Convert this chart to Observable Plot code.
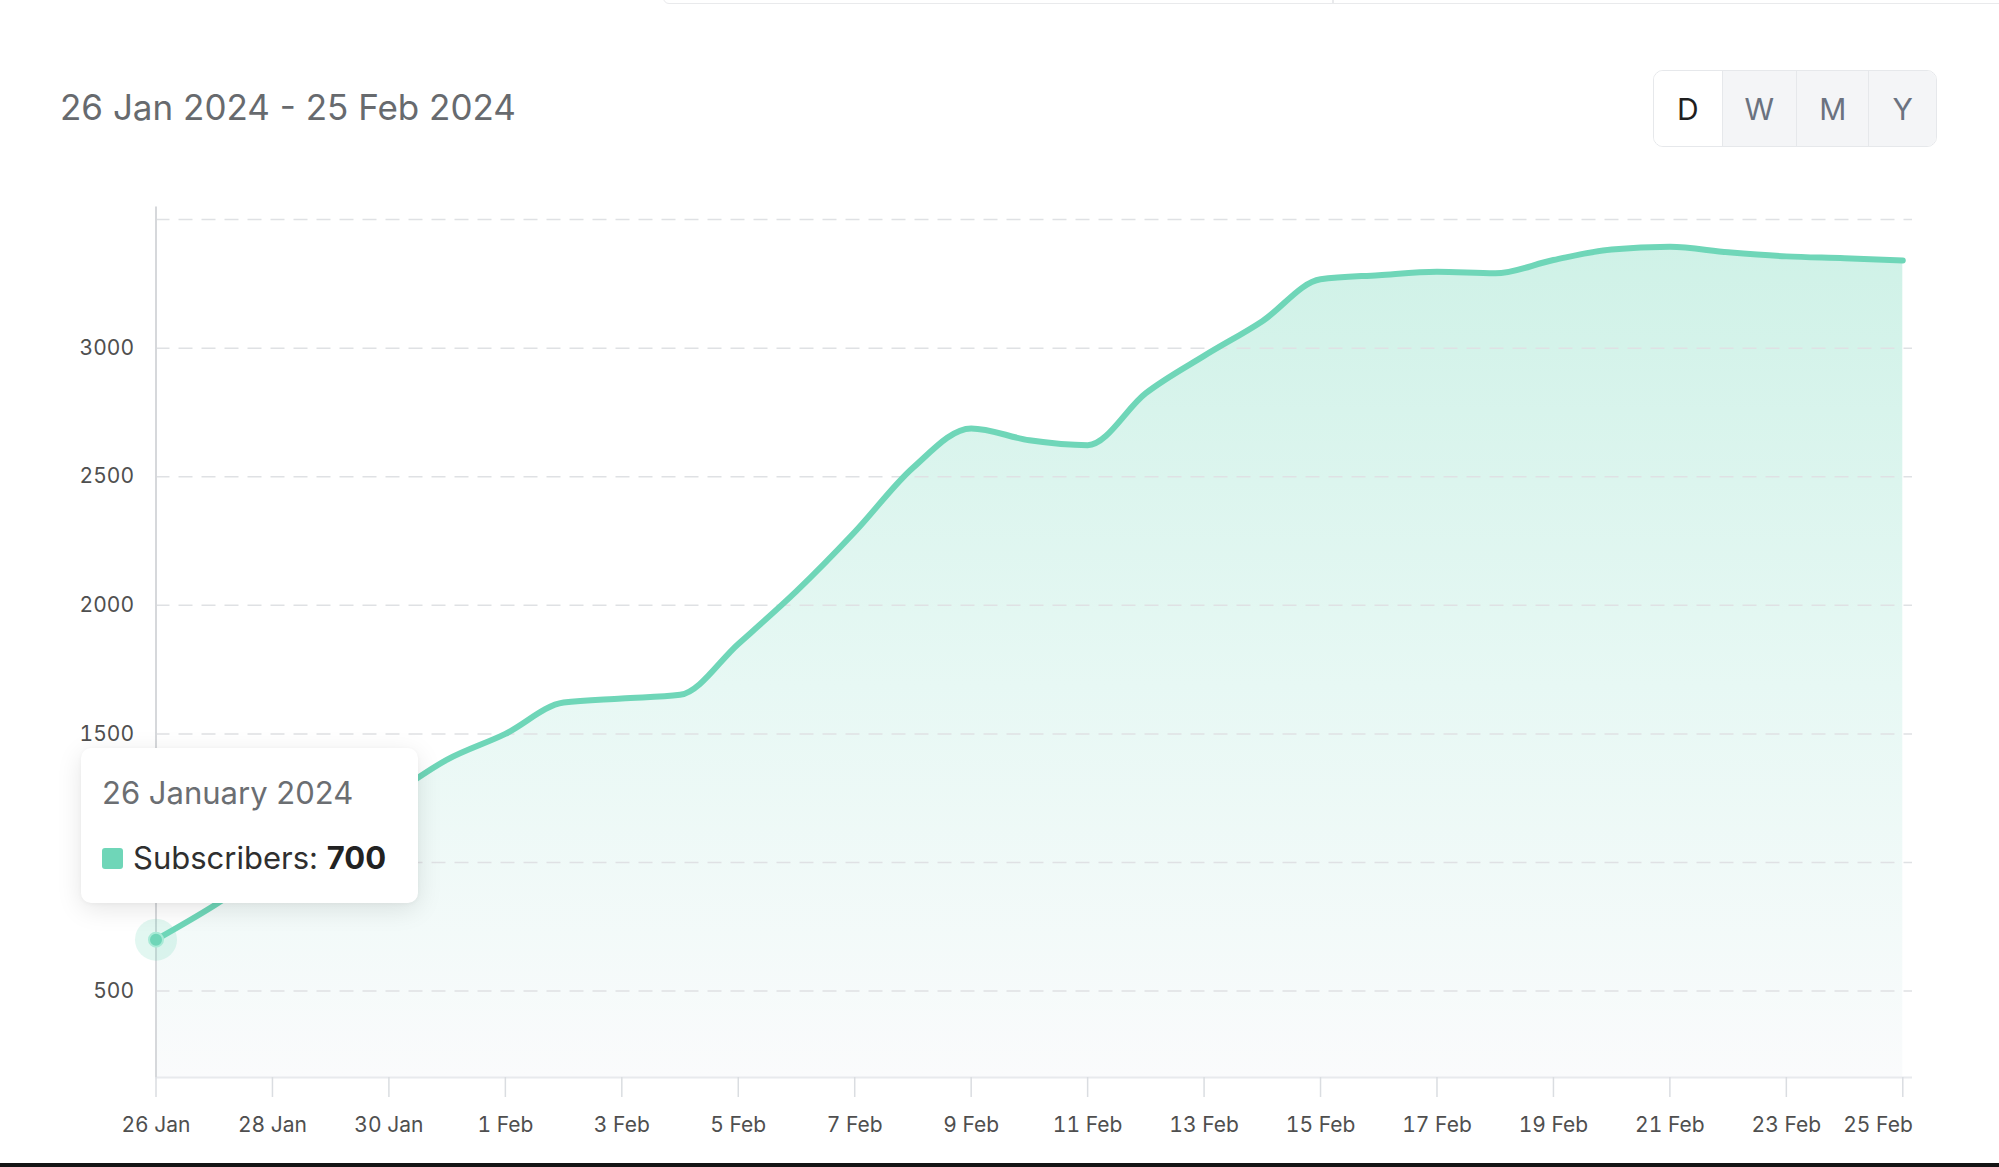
<!DOCTYPE html>
<html>
<head>
<meta charset="utf-8">
<script src="https://cdn.jsdelivr.net/npm/d3@7"></script>
<script src="https://cdn.jsdelivr.net/npm/@observablehq/plot@0.6"></script>
<style>
  html, body { margin: 0; padding: 0; background: #ffffff; }
  body { width: 1999px; height: 1167px; position: relative; overflow: hidden; font-family: Inter, "Noto Sans", sans-serif; }
  #topbox { position: absolute; left: 663px; top: -22px; width: 1400px; height: 26px; border: 1.5px solid #e9eaec; border-radius: 6px; box-sizing: border-box; }
  #topdiv { position: absolute; left: 1332px; top: -22px; width: 1.5px; height: 26px; background: #e9eaec; }
  #title { position: absolute; left: 60px; top: 90px; font-size: 35px; line-height: 1; color: #676a6e; white-space: nowrap; }
  #seg { position: absolute; left: 1653px; top: 70px; width: 284px; height: 77px; border: 1.5px solid #e6e8eb; border-radius: 10px; box-sizing: border-box; overflow: hidden; display: flex; }
  #seg .s { height: 100%; display: flex; align-items: center; justify-content: center; font-size: 30px; color: #6b7280; background: #f4f5f7; border-left: 1.5px solid #e6e8eb; box-sizing: border-box; }
  #seg .s.on { background: #ffffff; color: #1f1f1f; border-left: none; }
  #chart { position: absolute; left: 0; top: 150px; }
  #tip { position: absolute; left: 81px; top: 748px; width: 337px; height: 155px; background: #ffffff; border-radius: 10px; box-shadow: 0 6px 26px rgba(0,0,0,0.10), 0 1px 4px rgba(0,0,0,0.04); }
  #tipDate { position: absolute; left: 21px; top: 29px; font-size: 31px; line-height: 1; color: #6b6e72; white-space: nowrap; }
  #tipSwatch { position: absolute; left: 21px; top: 100px; width: 21px; height: 21px; border-radius: 3px; background: #6fd6b8; }
  #tipLabel { position: absolute; left: 52px; top: 94px; font-size: 31px; line-height: 1; color: #2f2f2f; white-space: nowrap; }
  #tipLabel b { color: #222222; font-weight: 700; }
  #bottombar { position: absolute; left: 0; top: 1163px; width: 1999px; height: 4px; background: #141414; }
</style>
</head>
<body>
<div id="topbox"></div>
<div id="topdiv"></div>
<div id="title"></div>
<div id="seg"></div>
<div id="chart"></div>
<div id="tip"><div id="tipDate"></div><div id="tipSwatch"></div><div id="tipLabel"></div></div>
<div id="bottombar"></div>
<script>
// ---- data ----
const dates = [
  "2024-01-26","2024-01-27","2024-01-28","2024-01-29","2024-01-30","2024-01-31",
  "2024-02-01","2024-02-02","2024-02-03","2024-02-04","2024-02-05","2024-02-06",
  "2024-02-07","2024-02-08","2024-02-09","2024-02-10","2024-02-11","2024-02-12",
  "2024-02-13","2024-02-14","2024-02-15","2024-02-16","2024-02-17","2024-02-18",
  "2024-02-19","2024-02-20","2024-02-21","2024-02-22","2024-02-23","2024-02-24",
  "2024-02-25"
];
const subscribers = [
  700, 833, 985, 1120, 1255, 1400,
  1500, 1622, 1638, 1652, 1850, 2055,
  2285, 2535, 2688, 2642, 2623, 2825,
  2970, 3105, 3268, 3284, 3297, 3291,
  3343, 3384, 3394, 3373, 3357, 3350,
  3341
];
const xTickDates = [
  "2024-01-26","2024-01-28","2024-01-30","2024-02-01","2024-02-03","2024-02-05",
  "2024-02-07","2024-02-09","2024-02-11","2024-02-13","2024-02-15","2024-02-17",
  "2024-02-19","2024-02-21","2024-02-23","2024-02-25"
];
const yTickLabels = [500, 1000, 1500, 2000, 2500, 3000];
const yGridLines = [500, 1000, 1500, 2000, 2500, 3000, 3500];
const rangeLabel = "26 Jan 2024 - 25 Feb 2024";
const periodButtons = ["D", "W", "M", "Y"];
const seriesName = "Subscribers";

// ---- header ----
document.getElementById("title").textContent = rangeLabel;
const segWidths = [68, 75, 73, 68];
const seg = document.getElementById("seg");
periodButtons.forEach((b, i) => {
  const el = document.createElement("div");
  el.className = "s" + (i === 0 ? " on" : "");
  el.style.width = segWidths[i] + "px";
  el.textContent = b;
  seg.appendChild(el);
});

// ---- chart ----
const parse = d3.utcParse("%Y-%m-%d");
const data = dates.map((d, i) => ({date: parse(d), value: subscribers[i]}));
const xTicks = xTickDates.map(parse);
const lastTick = xTicks[xTicks.length - 1];
const xStart = data[0].date;
const xEnd = new Date(data[data.length - 1].date.getTime() + 4 * 3600 * 1000);
const yMin = 164, yMax = 3549;
const teal = "#6fd6b8";
const fmtX = d3.utcFormat("%-d %b");

const plot = Plot.plot({
  width: 1999,
  height: 1010,
  marginLeft: 155.5,
  marginRight: 87,
  marginTop: 56.5,
  marginBottom: 83,
  style: {fontFamily: "Inter, 'Noto Sans', sans-serif", fontSize: "21px", color: "#4f4f4f", background: "transparent"},
  x: {type: "utc", domain: [xStart, xEnd], label: null},
  y: {domain: [yMin, yMax], label: null},
  marks: [
    Plot.areaY(data, {x: "date", y1: yMin, y2: "value", curve: "monotone-x", fill: "url(#areaGrad)"}),
    Plot.ruleY(yGridLines, {stroke: "#dfe1e4", strokeWidth: 1.5, strokeDasharray: "14,9"}),
    Plot.ruleY([yMin], {stroke: "#e8eaed", strokeWidth: 2}),
    Plot.ruleX([xStart], {stroke: "#d6d8db", strokeWidth: 2}),
    Plot.axisY({ticks: yTickLabels, tickSize: 0, tickPadding: 22, tickFormat: d => String(d), fill: "#4f4f4f", fontSize: 21, label: null}),
    // tick marks and labels (last label drawn separately, right-aligned)
    Plot.axisX({ticks: xTicks, tickSize: 20, tickPadding: 20, tickFormat: d => (+d === +lastTick ? "" : fmtX(d)), stroke: "#dadde1", strokeWidth: 1.5, fill: "#4f4f4f", fontSize: 21, label: null}),
    Plot.axisX({ticks: [lastTick], tickSize: 0, tickPadding: 40, tickFormat: fmtX, fill: "#4f4f4f", fontSize: 21, textAnchor: "end", dx: 10, label: null}),
    Plot.lineY(data, {x: "date", y: "value", curve: "monotone-x", stroke: teal, strokeWidth: 6, strokeLinecap: "round", strokeLinejoin: "round"}),
    Plot.dot([data[0]], {x: "date", y: "value", r: 21, fill: teal, fillOpacity: 0.2}),
    Plot.dot([data[0]], {x: "date", y: "value", r: 7, fill: teal, stroke: "#a8ead6", strokeWidth: 2})
  ]
});

// gradient definition for the area
const ns = "http://www.w3.org/2000/svg";
const defs = document.createElementNS(ns, "defs");
const grad = document.createElementNS(ns, "linearGradient");
grad.setAttribute("id", "areaGrad");
grad.setAttribute("gradientUnits", "userSpaceOnUse");
grad.setAttribute("x1", "0"); grad.setAttribute("x2", "0");
grad.setAttribute("y1", "56.5"); grad.setAttribute("y2", "927");
[[0, "#cdf1e6"], [0.55, "#e7f8f4"], [1, "#fafbfc"]].forEach(([o, c]) => {
  const s = document.createElementNS(ns, "stop");
  s.setAttribute("offset", o);
  s.setAttribute("stop-color", c);
  grad.appendChild(s);
});
defs.appendChild(grad);
plot.insertBefore(defs, plot.firstChild);
document.getElementById("chart").appendChild(plot);

// ---- tooltip ----
document.getElementById("tipDate").textContent = d3.utcFormat("%-d %B %Y")(data[0].date);
const lab = document.getElementById("tipLabel");
lab.appendChild(document.createTextNode(seriesName + ": "));
const b = document.createElement("b");
b.textContent = String(data[0].value);
lab.appendChild(b);
</script>
</body>
</html>
